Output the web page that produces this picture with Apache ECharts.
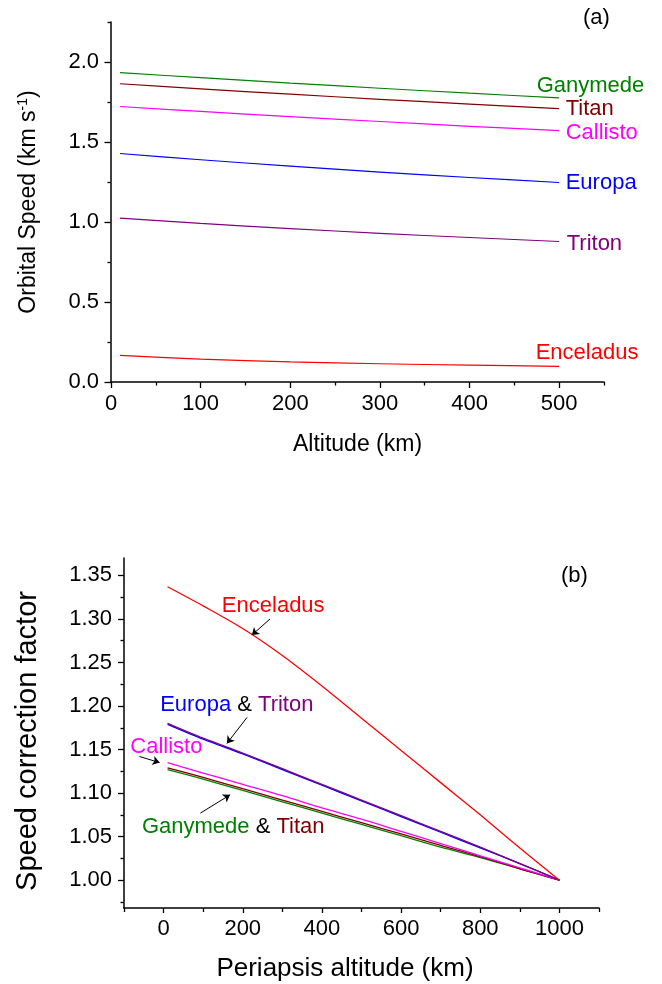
<!DOCTYPE html>
<html><head><meta charset="utf-8">
<script src="https://cdn.jsdelivr.net/npm/echarts@6/dist/echarts.min.js"></script>
<style>html,body{margin:0;padding:0;background:#fff}#c{width:662px;height:984px}</style>
</head><body><div id="c"></div>
<script>
const FONT = '"Liberation Sans", Arial, sans-serif';

// ---------- panel (a): orbital speed vs altitude ----------
const altitudeA = [10, 100, 200, 300, 400, 500];
const speedGanymede  = [1.934, 1.902, 1.868, 1.836, 1.805, 1.776];
const speedTitan     = [1.864, 1.832, 1.799, 1.767, 1.737, 1.709];
const speedCallisto  = [1.722, 1.691, 1.658, 1.628, 1.598, 1.571];
const speedEuropa    = [1.428, 1.389, 1.349, 1.312, 1.278, 1.247];
const speedTriton    = [1.024, 0.991, 0.959, 0.929, 0.903, 0.878];
const speedEnceladus = [0.166, 0.143, 0.126, 0.114, 0.105, 0.098];
const speedTicksMajor = [0, 0.5, 1.0, 1.5, 2.0];
const speedTicksMinor = [0.25, 0.75, 1.25, 1.75, 2.25];
const altTicksMajor = [0, 100, 200, 300, 400, 500];
const altTicksMinor = [50, 150, 250, 350, 450, 550];

// ---------- panel (b): speed correction factor vs periapsis altitude ----------
const altitudeB = [10, 100, 200, 300, 400, 500, 600, 700, 800, 900, 1000];
const corrEnceladus = [1.337, 1.315, 1.289, 1.258, 1.223, 1.186, 1.149, 1.112, 1.075, 1.037, 1.000];
const corrEuropa    = [1.179, 1.162, 1.145, 1.127, 1.109, 1.091, 1.073, 1.055, 1.037, 1.019, 1.000];
const corrTriton    = [1.180, 1.163, 1.146, 1.128, 1.110, 1.092, 1.074, 1.056, 1.038, 1.019, 1.000];
const corrCallisto  = [1.135, 1.123, 1.110, 1.097, 1.083, 1.070, 1.056, 1.042, 1.028, 1.014, 1.000];
const corrTitan     = [1.129, 1.118, 1.105, 1.092, 1.079, 1.066, 1.053, 1.040, 1.027, 1.013, 1.000];
const corrGanymede  = [1.127, 1.116, 1.103, 1.090, 1.077, 1.064, 1.051, 1.038, 1.026, 1.013, 1.000];
const corrTicksMajor = [1.00, 1.05, 1.10, 1.15, 1.20, 1.25, 1.30, 1.35];
const corrTicksMinor = [0.975, 1.025, 1.075, 1.125, 1.175, 1.225, 1.275, 1.325];
const periTicksMajor = [0, 200, 400, 600, 800, 1000];
const periTicksMinor = [-100, 100, 300, 500, 700, 900, 1100];

const COLORS = {
  Ganymede: '#008000', Titan: '#800000', Callisto: '#ff00ff',
  Europa: '#0000ff', Triton: '#800080', Enceladus: '#ff0000'
};

const pairs = (xs, ys) => xs.map((x, i) => [x, ys[i]]);
const axisLine = { onZero: false, lineStyle: { color: '#000', width: 1.5 } };
const tickStyle = { color: '#000', width: 1.3 };
const labelBase = { color: '#000', fontFamily: FONT, fontSize: 22 };

function majorAxis(extra) {
  return Object.assign({
    type: 'value', axisLine: axisLine, splitLine: { show: false }
  }, extra);
}
function minorAxis(extra) {
  return Object.assign({
    type: 'value', axisLine: { show: false, onZero: false },
    axisLabel: { show: false }, splitLine: { show: false }
  }, extra);
}

// endpoint label for panel (a)
function endMark(name, ys, off) {
  return {
    symbol: 'circle', symbolSize: 1, silent: true,
    itemStyle: { color: 'rgba(0,0,0,0)' },
    data: [{ coord: [altitudeA[altitudeA.length - 1], ys[ys.length - 1]] }],
    label: {
      show: true, position: 'right', distance: 0, offset: off,
      formatter: name, color: COLORS[name], fontFamily: FONT, fontSize: 22
    }
  };
}

function lineA(name, ys, off) {
  return {
    name: name, type: 'line', xAxisIndex: 0, yAxisIndex: 0,
    data: pairs(altitudeA, ys), showSymbol: false, silent: true, smooth: 0.3,
    lineStyle: { color: COLORS[name], width: 1.2 }, itemStyle: { color: COLORS[name] },
    markPoint: endMark(name, ys, off)
  };
}
function lineB(name, ys, extra) {
  return Object.assign({
    name: name, type: 'line', xAxisIndex: 2, yAxisIndex: 2,
    data: pairs(altitudeB, ys), showSymbol: false, silent: true, smooth: 0.3,
    lineStyle: { color: COLORS[name], width: 1.3 }, itemStyle: { color: COLORS[name] }
  }, extra || {});
}

const richB = {
  en: { color: COLORS.Enceladus, fontSize: 22, fontFamily: FONT },
  eu: { color: COLORS.Europa, fontSize: 22, fontFamily: FONT },
  tr: { color: COLORS.Triton, fontSize: 22, fontFamily: FONT },
  ca: { color: COLORS.Callisto, fontSize: 22, fontFamily: FONT },
  ga: { color: COLORS.Ganymede, fontSize: 22, fontFamily: FONT },
  ti: { color: COLORS.Titan, fontSize: 22, fontFamily: FONT },
  k:  { color: '#000', fontSize: 22, fontFamily: FONT }
};

const option = {
  backgroundColor: '#fff',
  animation: false,
  grid: [
    { left: 111, right: 58, top: 22, bottom: 602 },
    { left: 124, right: 63, top: 558, bottom: 76 }
  ],
  graphic: [
    { type: 'text', left: 583, top: 7, style: { text: '(a)', fontSize: 22, fontFamily: FONT, fill: '#000' } },
    { type: 'text', left: 561, top: 565, style: { text: '(b)', fontSize: 22, fontFamily: FONT, fill: '#000' } }
  ],
  xAxis: [
    majorAxis({
      gridIndex: 0, min: 0, max: 550, position: 'bottom',
      axisTick: { customValues: altTicksMajor, length: 6, lineStyle: tickStyle },
      axisLabel: Object.assign({ customValues: altTicksMajor, margin: 11,
        formatter: v => String(v) }, labelBase),
      name: 'Altitude (km)', nameLocation: 'middle', nameGap: 51,
      nameTextStyle: { color: '#000', fontFamily: FONT, fontSize: 23 }
    }),
    minorAxis({
      gridIndex: 0, min: 0, max: 550, position: 'bottom',
      axisTick: { customValues: altTicksMinor, length: 3.5, lineStyle: tickStyle }
    }),
    majorAxis({
      gridIndex: 1, min: -100, max: 1100, position: 'bottom',
      axisTick: { customValues: periTicksMajor, length: 5, lineStyle: tickStyle },
      axisLabel: Object.assign({ customValues: periTicksMajor, margin: 10,
        formatter: v => String(v) }, labelBase),
      name: 'Periapsis altitude (km)', nameLocation: 'middle', nameGap: 48,
      nameTextStyle: { color: '#000', fontFamily: FONT, fontSize: 26, padding: [0, 33, 0, 0] }
    }),
    minorAxis({
      gridIndex: 1, min: -100, max: 1100, position: 'bottom',
      axisTick: { customValues: periTicksMinor, length: 4, lineStyle: tickStyle }
    })
  ],
  yAxis: [
    majorAxis({
      gridIndex: 0, min: 0, max: 2.25, position: 'left',
      axisTick: { customValues: speedTicksMajor, length: 6.5, lineStyle: tickStyle },
      axisLabel: Object.assign({ customValues: speedTicksMajor, margin: 12,
        formatter: v => v.toFixed(1) }, labelBase),
      name: '{m|Orbital Speed (km s}{s|-1}{m|)}', nameLocation: 'middle', nameGap: 69,
      nameTextStyle: {
        rich: {
          m: { color: '#000', fontFamily: FONT, fontSize: 23, lineHeight: 26 },
          s: { color: '#000', fontFamily: FONT, fontSize: 14, lineHeight: 14, verticalAlign: 'top' }
        }
      }
    }),
    minorAxis({
      gridIndex: 0, min: 0, max: 2.25, position: 'left',
      axisTick: { customValues: speedTicksMinor, length: 3.5, lineStyle: tickStyle }
    }),
    majorAxis({
      gridIndex: 1, min: 0.968, max: 1.37, position: 'left',
      axisTick: { customValues: corrTicksMajor, length: 6, lineStyle: tickStyle },
      axisLabel: Object.assign({ customValues: corrTicksMajor, margin: 12,
        formatter: v => v.toFixed(2) }, labelBase),
      name: 'Speed correction factor', nameLocation: 'middle', nameGap: 82,
      nameTextStyle: { color: '#000', fontFamily: FONT, fontSize: 29, padding: [0, 16, 0, 0] }
    }),
    minorAxis({
      gridIndex: 1, min: 0.968, max: 1.37, position: 'left',
      axisTick: { customValues: corrTicksMinor, length: 3.5, lineStyle: tickStyle }
    })
  ],
  series: [
    lineA('Ganymede', speedGanymede, [-23, -12]),
    lineA('Titan', speedTitan, [6, 0]),
    lineA('Callisto', speedCallisto, [6, 2.5]),
    lineA('Europa', speedEuropa, [6, 0]),
    lineA('Triton', speedTriton, [7, 2]),
    lineA('Enceladus', speedEnceladus, [-24, -13]),

    lineB('Ganymede', corrGanymede),
    lineB('Titan', corrTitan),
    lineB('Callisto', corrCallisto),
    lineB('Europa', corrEuropa),
    lineB('Triton', corrTriton),
    lineB('Enceladus', corrEnceladus, {
      markLine: {
        silent: true, symbol: ['none', 'arrow'], symbolSize: 7,
        lineStyle: { color: '#000', width: 1, type: 'solid' },
        label: { show: false },
        data: [
          [{ coord: [269, 1.300] }, { coord: [223, 1.2815] }],
          [{ coord: [211, 1.187] }, { coord: [160, 1.157] }],
          [{ coord: [-61, 1.142] }, { coord: [-10, 1.135] }],
          [{ coord: [93, 1.077] }, { coord: [168, 1.098] }]
        ]
      },
      markPoint: {
        symbol: 'circle', symbolSize: 1, silent: true,
        itemStyle: { color: 'rgba(0,0,0,0)' },
        label: { show: true, position: 'inside', rich: richB },
        data: [
          { coord: [277, 1.315], label: { formatter: '{en|Enceladus}' } },
          { coord: [185, 1.201], label: { formatter: '{eu|Europa}{k| & }{tr|Triton}' } },
          { coord: [7, 1.153], label: { formatter: '{ca|Callisto}' } },
          { coord: [176, 1.061], label: { formatter: '{ga|Ganymede}{k| & }{ti|Titan}' } }
        ]
      }
    })
  ]
};

const chart = echarts.init(document.getElementById('c'), null, { renderer: 'canvas' });
chart.setOption(option);
</script>
</body></html>
